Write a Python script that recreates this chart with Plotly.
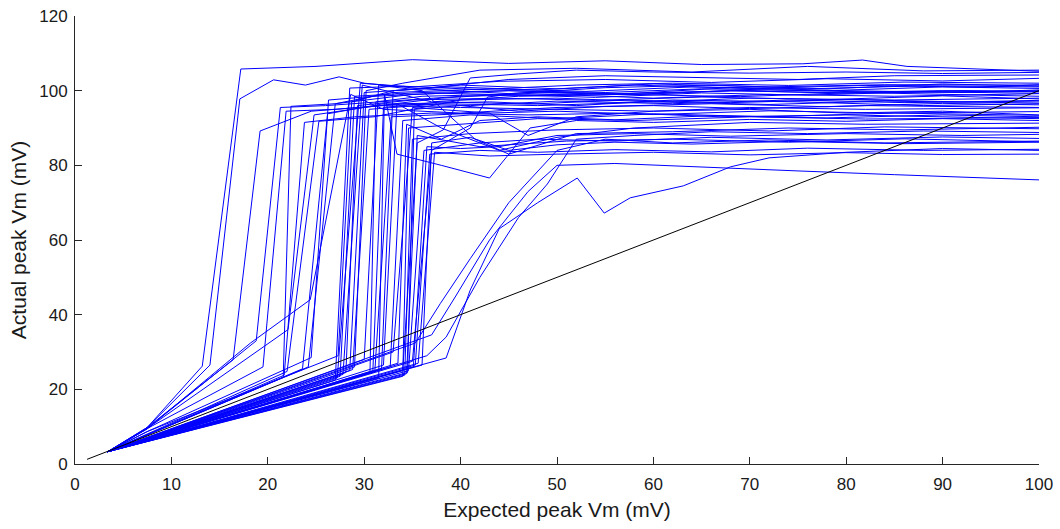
import plotly.graph_objects as go

# Reference line (expected == actual)
identity_x = [1.25, 100]
identity_y = [1.25, 100]

# Each cell: expected peak Vm (x) and actual peak Vm (y)
expected = [
    [3.4, 7.5, 13.2, 17.2, 25, 35, 45, 55, 65, 75.5, 81.7, 86.3, 100],
    [3.4, 7.5, 14, 17.1, 20.6, 23.9, 27.4, 30, 36, 45, 55, 65, 75, 85, 100],
    [3.4, 7.2, 16.4, 19.2, 24.5, 32, 40, 50, 60, 70, 80, 90, 100],
    [3.4, 7.5, 18.8, 21.3, 26, 32, 40, 50, 60, 72, 85, 100],
    [3.4, 8, 19.5, 21.9, 27, 34, 43, 52, 62, 75, 88, 100],
    [3.4, 21.6, 22.4, 27, 35, 45, 55, 65, 78, 90, 100],
    [3.4, 21.7, 23.8, 29, 37, 47, 57, 67, 80, 100],
    [3.4, 22, 25.3, 31, 40, 50, 60, 70, 85, 100],
    [3.4, 7.2, 22.1, 24.8, 30, 38, 47, 58, 68, 78, 90, 100],
    [3.4, 23.6, 26.2, 32, 41, 50, 62, 74, 86, 100],
    [3.4, 24.2, 27, 33, 43, 53, 64, 76, 88, 100],
    [3.4, 7.6, 24.5, 26.3, 31, 38, 48, 60, 72, 85, 100],
    [3.4, 27, 28.5, 34, 42, 52, 62, 74, 86, 100],
    [3.4, 27.2, 29.6, 35, 44, 55, 66, 78, 90, 100],
    [3.4, 27.5, 29, 36, 45, 56, 68, 80, 92, 100],
    [3.4, 27.8, 29.8, 37, 46, 57, 69, 81, 100],
    [3.4, 28.1, 29.3, 35, 44, 54, 65, 78, 90, 100],
    [3.4, 28.5, 30, 36, 45, 55, 66, 78, 90, 100],
    [3.4, 28.8, 30.5, 38, 48, 60, 72, 84, 100],
    [3.4, 29, 30.2, 34, 42, 52, 64, 76, 88, 100],
    [3.4, 7.4, 27.3, 28.7, 33, 40, 50, 60, 72, 84, 100],
    [3.4, 7.5, 18.2, 24.4, 28.6, 32, 40, 50, 60, 70, 82, 100],
    [3.4, 30.6, 31.2, 36, 44, 54, 65, 76, 88, 100],
    [3.4, 30.9, 32, 38, 47, 57, 68, 80, 92, 100],
    [3.4, 31.1, 32.8, 40, 50, 60, 72, 84, 100],
    [3.4, 31.8, 33, 39, 48, 58, 70, 82, 94, 100],
    [3.4, 32, 33.4, 38, 44, 50, 58, 70, 82, 100],
    [3.4, 32.7, 34, 41, 50, 60, 72, 85, 100],
    [3.4, 30, 31.5, 36, 41.5, 45, 52, 62, 74, 86, 100],
    [3.4, 34, 34.6, 40, 48, 58, 70, 82, 100],
    [3.4, 34.2, 35, 41, 50, 60, 72, 84, 100],
    [3.4, 34.4, 35.5, 42, 51, 62, 74, 86, 100],
    [3.4, 34.5, 35.2, 40, 46, 55, 66, 78, 90, 100],
    [3.4, 34.6, 36.2, 42, 48, 56, 66, 78, 90, 100],
    [3.4, 35.1, 36.5, 40, 44, 50, 58, 68, 80, 92, 100],
    [3.4, 35.3, 36.8, 42, 48, 56, 66, 76, 88, 100],
    [3.4, 33.5, 34.4, 38, 42, 48, 56, 66, 78, 90, 100],
    [3.4, 35.6, 37.3, 43, 50, 60, 70, 80, 90, 100],
    [3.4, 36, 37, 41, 45, 50, 56, 64, 74, 86, 100],
    [3.4, 33, 35, 38, 43, 47, 52, 60, 70, 82, 100],
    [3.4, 35.3, 37.9, 41, 45, 50, 55, 62, 72, 84, 100],
    [3.4, 38.5, 41, 44, 48, 52.1, 54.9, 57.6, 63.1, 68, 72, 80, 90, 100],
    [3.4, 37, 39.5, 43, 47, 50, 56, 65, 75, 85, 100],
    [3.4, 31.5, 32.1, 33.4, 38, 43, 47.2, 52, 60, 70, 80, 90, 100],
    [3.4, 34, 35.5, 38.2, 41, 46, 52, 60, 70, 80, 90, 100],
    [3.4, 35, 37, 41, 42.8, 45, 50, 58, 68, 80, 92, 100],
    [3.4, 36.5, 38.5, 42, 46, 49, 52, 58, 66, 76, 88, 100],
]

actual = [
    [3.3, 9.8, 26.2, 105.8, 106.5, 108.3, 107.3, 108, 107, 107.2, 108.2, 106.5, 105.2],
    [3.3, 9.8, 26.5, 97.8, 102.9, 101.5, 103.7, 102, 100.5, 103, 104, 103.5, 103, 104, 104.2],
    [3.3, 9.2, 27.9, 89.2, 94.5, 96, 95.5, 95, 94.5, 95, 94, 94.5, 93.5],
    [3.3, 9.5, 33, 95.5, 96, 97, 98.5, 99, 98, 99, 98.5, 99.2],
    [3.3, 10.2, 26, 94.5, 95, 96.5, 97, 96, 97.5, 97, 96, 96.5],
    [3.3, 23.2, 95.8, 96.5, 99, 100, 99.5, 100.5, 100, 101, 100.6],
    [3.3, 23.8, 91.5, 93, 94, 93.5, 94, 93, 93.5, 92.5],
    [3.3, 24.8, 91.8, 93, 97.5, 98, 97, 98, 97.5, 98],
    [3.3, 9, 36, 93.5, 95.5, 98, 99.5, 99, 100, 99.5, 100, 99.8],
    [3.3, 25.5, 93.8, 96.5, 96, 97.2, 96.5, 97.5, 96.8, 97.2],
    [3.3, 26, 96.5, 99.5, 100.5, 99.8, 101, 100.5, 101.3, 101],
    [3.3, 8.8, 28.5, 97.5, 98.5, 99.3, 98.7, 99.5, 100.2, 99.5, 100],
    [3.3, 22.5, 100.7, 101.2, 100.3, 101.5, 102, 101.4, 102.3, 102],
    [3.3, 23, 102, 101, 102.5, 103, 102.2, 103.2, 102.6, 103.3],
    [3.3, 23.5, 98.5, 99.5, 100, 99, 100.8, 100, 99.5, 100.2],
    [3.3, 24, 101.5, 97, 98.5, 99, 98.4, 99.5, 98.5],
    [3.3, 24.5, 96, 97.5, 98, 97.4, 98.3, 97.6, 98.6, 97.8],
    [3.3, 25, 99.5, 100.5, 99.2, 100.8, 101.5, 100.5, 101.8, 101.2],
    [3.3, 25.3, 95, 96.5, 96, 97, 96.3, 97.2, 96.7],
    [3.3, 26, 100, 102, 105.5, 106, 105, 106.5, 105.3, 105.5],
    [3.3, 8.6, 29, 97, 100, 101.5, 100.5, 101.8, 101, 101.6, 101.5],
    [3.3, 9.5, 32.4, 44, 99, 95, 94, 95.5, 96, 95.2, 96, 95.5],
    [3.3, 24.5, 97, 98.5, 99, 98.2, 99.4, 98.8, 99.7, 99.3],
    [3.3, 25, 95.5, 97, 96.4, 97.5, 96.8, 97.6, 97, 97.4],
    [3.3, 24.7, 93, 93.8, 94.5, 93.6, 94.6, 94, 94.4],
    [3.3, 25.5, 100, 101, 100.2, 101.5, 100.6, 101.4, 100.9, 101.6],
    [3.3, 26.5, 96.5, 90, 84, 87.5, 90, 91.5, 91, 91.3],
    [3.3, 26, 92, 93.5, 92.5, 93.8, 93, 94, 93.4],
    [3.3, 28, 101.5, 100, 87, 83, 88.5, 89, 90, 89.5, 90.2],
    [3.3, 23.5, 90, 91, 92.5, 92, 93, 92.4, 92.8],
    [3.3, 23.8, 87, 88.5, 89.5, 90, 89.2, 90.3, 89.8],
    [3.3, 24.2, 88, 85, 86.5, 87, 86.2, 87.1, 86.3],
    [3.3, 24.5, 95, 96, 94.5, 95.8, 96.5, 95.7, 96.6, 96.2],
    [3.3, 25, 84, 86, 87, 86.5, 87.5, 86.8, 87.6, 87.2],
    [3.3, 26, 85, 84.5, 85, 88, 88.5, 87.8, 88.5, 88, 88.3],
    [3.3, 26.5, 83, 84, 83.5, 84.2, 83.6, 84.6, 84, 84.3],
    [3.3, 27, 91, 87, 92, 93, 92.2, 93.3, 92.7, 93.5, 93],
    [3.3, 27, 83.5, 82.5, 83, 83.5, 82.8, 83.4, 82.9, 83],
    [3.3, 26.5, 86, 87.5, 84, 85.5, 86.2, 85.7, 86.4, 85.8, 86.2],
    [3.3, 30, 95.5, 95, 94, 88, 93, 94.5, 95.5, 95, 95.4],
    [3.3, 32.4, 43, 55, 70, 84, 87, 86, 86.8, 86, 86.5],
    [3.3, 28.4, 46.6, 63, 70, 76.6, 67.2, 71.3, 74.5, 79.6, 82, 83.5, 84.5, 84],
    [3.3, 34.6, 45, 60, 73, 80, 80.5, 79.5, 78.5, 77.5, 76.1],
    [3.3, 23, 99, 83, 80, 76.6, 90, 92, 91.5, 92.3, 91.8, 92.5, 92],
    [3.3, 25, 86, 89.5, 103.4, 104.5, 105.5, 105, 104.7, 105, 104.6, 104.9],
    [3.3, 27.5, 84, 90, 98.3, 99, 99.6, 99, 100, 99.3, 100, 99.7],
    [3.3, 29, 34, 50, 66, 75, 87, 88, 89, 88.5, 89.2, 88.8],
]

fig = go.Figure()
for xs, ys in zip(expected, actual):
    fig.add_trace(go.Scatter(x=xs, y=ys, mode="lines",
                             line=dict(color="#0000ff", width=1),
                             showlegend=False, hoverinfo="skip"))
fig.add_trace(go.Scatter(x=identity_x, y=identity_y, mode="lines",
                         line=dict(color="#000000", width=1),
                         showlegend=False, hoverinfo="skip"))

fam = "Liberation Sans, Arial, sans-serif"
axis_font = dict(family=fam, size=17, color="#1a1a1a")
title_font = dict(family=fam, size=21, color="#1a1a1a")
common = dict(showline=True, linecolor="#262626", linewidth=1, ticks="inside",
              ticklen=7, tickcolor="#262626", tickwidth=1, showgrid=False,
              zeroline=False, mirror=False, tickfont=axis_font, automargin=False)

fig.update_layout(
    width=1060, height=529,
    margin=dict(l=75, r=21, t=16, b=65, autoexpand=False),
    paper_bgcolor="white", plot_bgcolor="white",
    xaxis=dict(range=[0, 100], tickvals=[0, 10, 20, 30, 40, 50, 60, 70, 80, 90, 100],
               ticklabelstandoff=5,
               title=dict(text="Expected peak Vm (mV)", font=title_font, standoff=8),
               **common),
    yaxis=dict(range=[0, 120], tickvals=[0, 20, 40, 60, 80, 100, 120],
               ticklabelstandoff=3,
               title=dict(text="Actual peak Vm (mV)", font=title_font, standoff=6),
               **common),
)

fig.write_html("out.html")
